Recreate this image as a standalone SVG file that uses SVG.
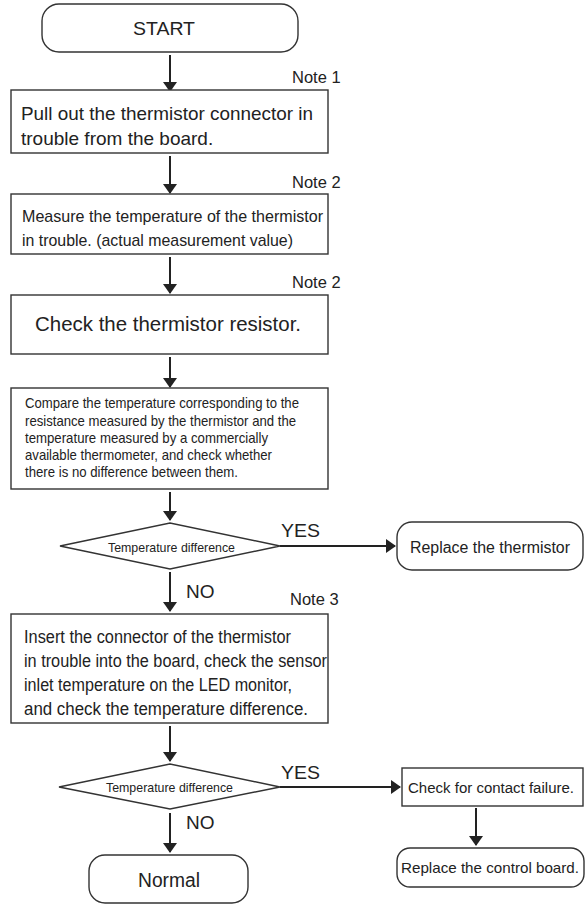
<svg xmlns="http://www.w3.org/2000/svg" width="586" height="905" viewBox="0 0 586 905">
<style>
.box{fill:#fff;stroke:#333;stroke-width:1.4}
.t{font-family:"Liberation Sans",Arial,sans-serif;fill:#222}
.c{stroke:#222;stroke-width:2;fill:none}
</style>
<defs>
<marker id="ah" markerWidth="10" markerHeight="14" refX="9" refY="7" orient="auto" markerUnits="userSpaceOnUse" viewBox="0 0 10 14">
<path d="M0,0 L10,7 L0,14 z" fill="#222"/>
</marker>
<marker id="av" markerWidth="14" markerHeight="10" refX="7" refY="9" orient="0" markerUnits="userSpaceOnUse" viewBox="0 0 14 10">
<path d="M0,0 L14,0 L7,10 z" fill="#222"/>
</marker>
</defs>
<rect width="586" height="905" fill="#fff"/>

<g id="connectors">
<line class="c" x1="170" y1="55" x2="170" y2="91" marker-end="url(#av)"/>
<line class="c" x1="170" y1="156" x2="170" y2="193" marker-end="url(#av)"/>
<line class="c" x1="170" y1="257" x2="170" y2="293" marker-end="url(#av)"/>
<line class="c" x1="170" y1="357" x2="170" y2="387" marker-end="url(#av)"/>
<line class="c" x1="170" y1="492" x2="170" y2="520" marker-end="url(#av)"/>
<line class="c" x1="280" y1="546" x2="395" y2="546" marker-end="url(#ah)"/>
<line class="c" x1="170" y1="572" x2="170" y2="611" marker-end="url(#av)"/>
<line class="c" x1="170" y1="726" x2="170" y2="761" marker-end="url(#av)"/>
<line class="c" x1="280" y1="787" x2="400" y2="787" marker-end="url(#ah)"/>
<line class="c" x1="170" y1="813" x2="170" y2="852" marker-end="url(#av)"/>
<line class="c" x1="476" y1="808" x2="476" y2="845" marker-end="url(#av)"/>
<text class="t" x="281" y="537" font-size="18.5" textLength="39" lengthAdjust="spacingAndGlyphs">YES</text>
<text class="t" x="186" y="598" font-size="19">NO</text>
<text class="t" x="281" y="779" font-size="18.5" textLength="39" lengthAdjust="spacingAndGlyphs">YES</text>
<text class="t" x="186" y="829" font-size="19">NO</text>
</g>

<g id="start">
<rect class="box" x="42" y="4" width="256" height="48" rx="17"/>
<text class="t" x="133" y="35" font-size="19" textLength="62" lengthAdjust="spacingAndGlyphs">START</text>
</g>

<g id="note1"><text class="t" x="292" y="83" font-size="16.5">Note 1</text></g>
<g id="box1">
<rect class="box" x="11" y="90" width="317" height="63"/>
<text class="t" x="21" y="120" font-size="19" textLength="292" lengthAdjust="spacingAndGlyphs">Pull out the thermistor connector in</text>
<text class="t" x="21" y="145" font-size="19">trouble from the board.</text>
</g>

<g id="note2a"><text class="t" x="292" y="188" font-size="16.5">Note 2</text></g>
<g id="box2">
<rect class="box" x="11" y="194" width="317" height="60"/>
<text class="t" x="22" y="222" font-size="17" textLength="301" lengthAdjust="spacingAndGlyphs">Measure the temperature of the thermistor</text>
<text class="t" x="22" y="246" font-size="17" textLength="271" lengthAdjust="spacingAndGlyphs">in trouble. (actual measurement value)</text>
</g>

<g id="note2b"><text class="t" x="292" y="288" font-size="16.5">Note 2</text></g>
<g id="box3">
<rect class="box" x="11" y="295" width="317" height="59"/>
<text class="t" x="35" y="331" font-size="19.5" textLength="266" lengthAdjust="spacingAndGlyphs">Check the thermistor resistor.</text>
</g>

<g id="box4">
<rect class="box" x="11" y="388" width="317" height="101"/>
<text class="t" x="25" y="408" font-size="14.5" textLength="274" lengthAdjust="spacingAndGlyphs">Compare the temperature corresponding to the</text>
<text class="t" x="25" y="426" font-size="14.5" textLength="271" lengthAdjust="spacingAndGlyphs">resistance measured by the thermistor and the</text>
<text class="t" x="25" y="443" font-size="14.5" textLength="243" lengthAdjust="spacingAndGlyphs">temperature measured by a commercially</text>
<text class="t" x="25" y="460" font-size="14.5" textLength="247" lengthAdjust="spacingAndGlyphs">available thermometer, and check whether</text>
<text class="t" x="25" y="477" font-size="14.5" textLength="213" lengthAdjust="spacingAndGlyphs">there is no difference between them.</text>
</g>

<g id="decision1">
<polygon class="box" points="60,546 170,523 280,546 170,569"/>
<text class="t" x="108" y="552" font-size="13.5" textLength="127" lengthAdjust="spacingAndGlyphs">Temperature difference</text>
</g>

<g id="replace-thermistor">
<rect class="box" x="397" y="522" width="186" height="48" rx="15"/>
<text class="t" x="410" y="553" font-size="16" textLength="160" lengthAdjust="spacingAndGlyphs">Replace the thermistor</text>
</g>

<g id="note3"><text class="t" x="290" y="605" font-size="16.5">Note 3</text></g>
<g id="box5">
<rect class="box" x="11" y="614" width="317" height="109"/>
<text class="t" x="24" y="643" font-size="17.5" textLength="267" lengthAdjust="spacingAndGlyphs">Insert the connector of the thermistor</text>
<text class="t" x="24" y="667" font-size="17.5" textLength="303" lengthAdjust="spacingAndGlyphs">in trouble into the board, check the sensor</text>
<text class="t" x="24" y="691" font-size="17.5" textLength="268" lengthAdjust="spacingAndGlyphs">inlet temperature on the LED monitor,</text>
<text class="t" x="24" y="715" font-size="17.5" textLength="284" lengthAdjust="spacingAndGlyphs">and check the temperature difference.</text>
</g>

<g id="decision2">
<polygon class="box" points="59,787 170,764 280,787 170,809"/>
<text class="t" x="106" y="792" font-size="13.5" textLength="127" lengthAdjust="spacingAndGlyphs">Temperature difference</text>
</g>

<g id="check-contact">
<rect class="box" x="402" y="768" width="181" height="38"/>
<text class="t" x="408" y="793" font-size="15.5" textLength="166" lengthAdjust="spacingAndGlyphs">Check for contact failure.</text>
</g>

<g id="replace-board">
<rect class="box" x="397" y="848" width="187" height="39" rx="13"/>
<text class="t" x="401" y="873" font-size="15" textLength="178" lengthAdjust="spacingAndGlyphs">Replace the control board.</text>
</g>

<g id="normal">
<rect class="box" x="89" y="855" width="159" height="48" rx="16"/>
<text class="t" x="138" y="887" font-size="19.5" textLength="62" lengthAdjust="spacingAndGlyphs">Normal</text>
</g>
</svg>
